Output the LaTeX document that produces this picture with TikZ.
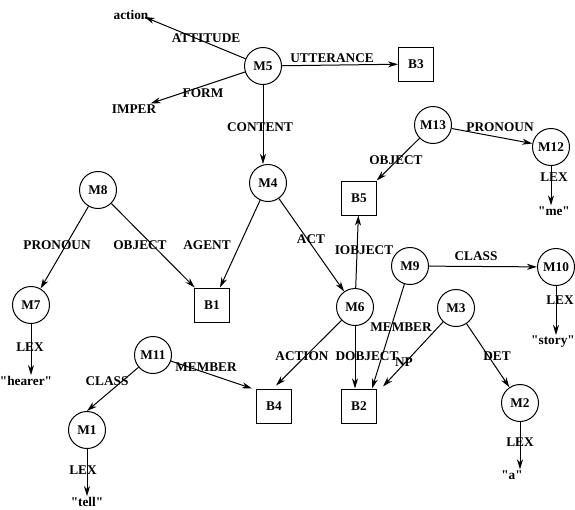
\documentclass[tikz,border=0pt]{standalone}
\usepackage{fontspec}
\setmainfont{Liberation Serif}
\usetikzlibrary{arrows.meta,calc}
\begin{document}
\begin{tikzpicture}[x=1pt,y=-1pt,
  every node/.style={font=\fontsize{13.3}{15}\selectfont\bfseries},
  cnode/.style={draw,circle,line width=1pt,minimum size=37pt,inner sep=0pt},
  bnode/.style={draw,rectangle,line width=1pt,minimum width=35pt,minimum height=34pt,inner sep=0pt},
  tnode/.style={inner sep=1pt},
  lbl/.style={inner sep=0pt},
  arr/.style={line width=1pt,-{Stealth[length=10pt,width=6pt,inset=3pt]}}]
\useasboundingbox (0,0) rectangle (575,509);
% nodes
\node[cnode] (M5) at (263,66) {M5};
\node[bnode] (B3) at (416,64) {B3};
\node[tnode] (action) at (131,15) {action};
\node[tnode] (IMPER) at (134,109) {IMPER};
\node[cnode] (M4) at (268,183) {M4};
\node[cnode] (M8) at (98,190) {M8};
\node[cnode] (M7) at (31,305) {M7};
\node[bnode] (B1) at (212,305) {B1};
\node[tnode] (hearer) at (26,381) {\textquotedbl hearer\textquotedbl};
\node[cnode] (M13) at (433,125) {M13};
\node[cnode] (M12) at (551,147) {M12};
\node[tnode] (me) at (554,211) {\textquotedbl me\textquotedbl};
\node[bnode] (B5) at (359,198) {B5};
\node[cnode] (M6) at (355,307) {M6};
\node[cnode] (M9) at (410,266) {M9};
\node[cnode] (M10) at (556,267) {M10};
\node[tnode] (story) at (553,342) {\textquotedbl story\textquotedbl};
\node[cnode] (M3) at (456,308) {M3};
\node[cnode] (M2) at (520,403) {M2};
\node[tnode] (a) at (512,475) {\textquotedbl a\textquotedbl};
\node[bnode] (B2) at (359,406) {B2};
\node[bnode] (B4) at (274,406) {B4};
\node[cnode] (M11) at (153,355) {M11};
\node[cnode] (M1) at (87,430) {M1};
\node[tnode] (tell) at (87,502) {\textquotedbl tell\textquotedbl};
% labels
\node[lbl] (lAtt) at (206,38) {ATTITUDE};
\node[lbl] (lUtt) at (332,58) {UTTERANCE};
\node[lbl] (lForm) at (203,93) {FORM};
\node[lbl] (lCont) at (260,127) {CONTENT};
\node[lbl] (lPron1) at (57,245) {PRONOUN};
\node[lbl] (lObj1) at (140,245) {OBJECT};
\node[lbl] (lAgent) at (207,245) {AGENT};
\node[lbl] (lAct) at (311,239) {ACT};
\node[lbl] (lObj2) at (396,160) {OBJECT};
\node[lbl] (lPron2) at (500,127) {PRONOUN};
\node[lbl] (lLex1) at (554,177) {LEX};
\node[lbl] (lIobj) at (364,250) {IOBJECT};
\node[lbl] (lClass1) at (476,256) {CLASS};
\node[lbl] (lLex2) at (560,300) {LEX};
\node[lbl] (lLex3) at (30,347) {LEX};
\node[lbl] (lMem1) at (401,327) {MEMBER};
\node[lbl] (lAction) at (302,356) {ACTION};
\node[lbl] (lDobj) at (367,356) {DOBJECT};
\node[lbl] (lNP) at (404,362) {NP};
\node[lbl] (lDet) at (497,356) {DET};
\node[lbl] (lLex4) at (520,442) {LEX};
\node[lbl] (lClass2) at (107,381) {CLASS};
\node[lbl] (lMem2) at (206,367) {MEMBER};
\node[lbl] (lLex5) at (83,470) {LEX};
% connectors
\draw[arr] (M5) -- ($(action.east)+(-5,2)$);
\draw[arr] (M5) -- (B3);
\draw[arr] (M5) -- (IMPER);
\draw[arr] (M5.south) -- (M5.south |- M4.north);
\draw[arr] (M4) -- (B1);
\draw[arr] (M4) -- (M6);
\draw[arr] (M8) -- (M7);
\draw[arr] (M8) -- (B1);
\draw[arr] (M7.south) -- (M7.south |- hearer.north);
\draw[arr] (M13) -- (M12);
\draw[arr] (M13) -- (B5);
\draw[arr] (M12.south) -- (M12.south |- me.north);
\draw[arr] (M6) -- (B5);
\draw[arr] (M6) -- ($(B4.north)+(2,-3)$);
\draw[arr] (M6.south) -- (M6.south |- B2.north);
\draw[arr] (M9) -- (M10);
\draw[arr] (M9) -- ($(B2.north)+(13,0)$);
\draw[arr] (M10.south) -- (M10.south |- story.north);
\draw[arr] (M3) -- ($(B2.north east)+(6,-2)$);
\draw[arr] (M3) -- (M2);
\draw[arr] (M2.south) -- (M2.south |- a.north);
\draw[arr] (M11) -- (M1.north);
\draw[arr] (M11) -- ($(B4.north west)+(-4,0)$);
\draw[arr] (M1.south) -- (M1.south |- tell.north);
\end{tikzpicture}
\end{document}
